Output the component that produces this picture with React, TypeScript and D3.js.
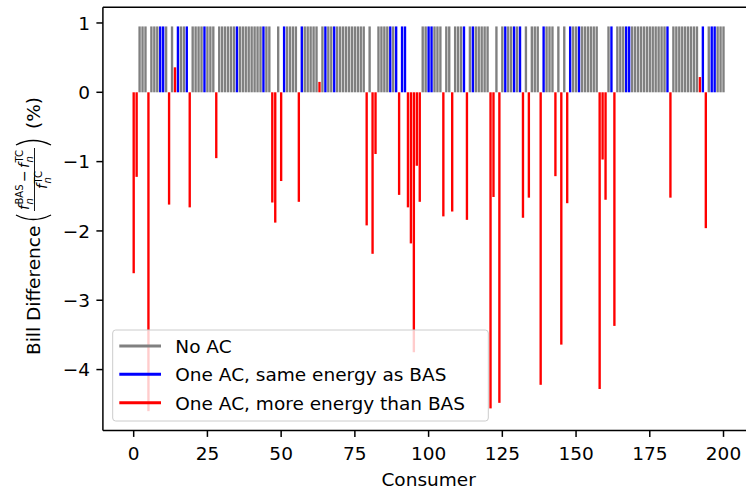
import React from "react";
import * as d3 from "d3";

// N = No AC, S = One AC same energy as BAS, M = One AC more energy than BAS
const consumerGroups: string[] = [
  "MMNNNMNNNSSNMNMSNNSMNNNNS",
  "NNNMNNNNNNSNNNNNNNNSNNMMN",
  "MSNNNNMSNNNNNMNSNNSNNNNNN",
  "NNNNMNMMNNNNSNSMSSMMMMMNN",
  "SSNNNMNNMNNNSMNSNNNNNMMNM",
  "NSNNSNSMNMNNNMSNNNMNMNMSN",
  "NSNNNNNNMMMNSMNNNSSNNNNNN",
  "NNNNNNSMNNNNNNNNNMSMNSSNNN",
].join("").split("");

const noAcValue = 0.95;
const sameEnergyValue = 0.95;
const moreEnergyValues: number[] = [
  -2.61, -1.22, -4.6, -1.62, 0.36, -1.66, -0.95, -1.59, -1.88, -1.28,
  -1.58, 0.15, -1.92, -2.33, -0.89, -1.48, -1.66, -2.18, -3.75, -1.06,
  -1.58, -1.79, -1.72, -1.84, -4.56, -1.51, -4.48, -1.81, -1.52, -4.22,
  -1.21, -3.64, -1.6, -4.28, -0.97, -1.55, -3.37, -1.52, 0.22, -1.96,
];

const xTicks = [0, 25, 50, 75, 100, 125, 150, 175, 200];
const yTicks = [1, 0, -1, -2, -3, -4];
const legendLabels = ["No AC", "One AC, same energy as BAS", "One AC, more energy than BAS"];
const colors: Record<string, string> = { N: "#808080", S: "#0000ff", M: "#ff0000" };

type Bar = { i: number; v: number; g: string };

export default function App() {
  const W = 746, H = 491;
  const x = d3.scaleLinear().domain([-10.44, 210.44]).range([102.9, 754.3]);
  const y = d3.scaleLinear().domain([-4.8775, 1.2275]).range([430.4, 7.2]);
  const font = "DejaVu Sans, sans-serif";
  const fs = 18.5;

  let r = 0;
  const bars: Bar[] = consumerGroups.map((g, i) => {
    if (g === "M") return { i, v: moreEnergyValues[r++], g };
    return { i, v: g === "N" ? noAcValue : sameEnergyValue, g };
  });
  const order = ["N", "S", "M"];
  const bw = 0.8;

  const left = x(-10.44), top = y(1.2275), bottom = y(-4.8775);

  return (
    <svg width={W} height={H} style={{ position: "absolute", left: 0, top: 0, background: "#fff" }} fontFamily={font}>
      <rect x={0} y={0} width={W} height={H} fill="#fff" />
      {order.map((g) =>
        bars
          .filter((b) => b.g === g)
          .map((b) => (
            <rect
              key={g + b.i}
              x={x(b.i - bw / 2)}
              width={x(b.i + bw / 2) - x(b.i - bw / 2)}
              y={y(Math.max(0, b.v))}
              height={Math.abs(y(b.v) - y(0))}
              fill={colors[g]}
            />
          ))
      )}
      {/* spines */}
      <line x1={left} x2={W + 10} y1={top} y2={top} stroke="#000" strokeWidth={1.5} />
      <line x1={left} x2={W + 10} y1={bottom} y2={bottom} stroke="#000" strokeWidth={1.5} />
      <line x1={left} x2={left} y1={top} y2={bottom} stroke="#000" strokeWidth={1.5} />
      {/* x ticks */}
      {xTicks.map((t) => (
        <g key={"x" + t}>
          <line x1={x(t)} x2={x(t)} y1={bottom} y2={bottom + 6.5} stroke="#000" strokeWidth={1.5} />
          <text x={x(t)} y={460} textAnchor="middle" fontSize={fs}>{t}</text>
        </g>
      ))}
      {/* y ticks */}
      {yTicks.map((t) => (
        <g key={"y" + t}>
          <line x1={left - 6.5} x2={left} y1={y(t)} y2={y(t)} stroke="#000" strokeWidth={1.5} />
          <text x={90} y={y(t) + 6.7} textAnchor="end" fontSize={fs}>{t < 0 ? "\u2212" + Math.abs(t) : t}</text>
        </g>
      ))}
      <text x={(left + 754.3) / 2} y={486} textAnchor="middle" fontSize={fs}>Consumer</text>
      {/* y label */}
      <g transform="translate(40,355) rotate(-90)" fontSize={fs}>
        <text x={0} y={0}>Bill Difference</text>
        <path d="M140,-24 Q131,-7 140,11" fill="none" stroke="#000" strokeWidth={1.3} />
        {/* numerator */}
        <g fontSize={14}>
          <text x={145} y={-11.5} fontStyle="italic">f</text>
          <text x={150.5} y={-17} fontSize={10}>BAS</text>
          <text x={150.5} y={-7.5} fontSize={10} fontStyle="italic">n</text>
          <text x={173} y={-11.5}>{"\u2212"}</text>
          <text x={187} y={-11.5} fontStyle="italic">f</text>
          <text x={192.5} y={-17} fontSize={10}>TC</text>
          <text x={192.5} y={-7.5} fontSize={10} fontStyle="italic">n</text>
        </g>
        <line x1={144} x2={207} y1={-5.5} y2={-5.5} stroke="#000" strokeWidth={0.9} />
        <g fontSize={14}>
          <text x={166} y={6.5} fontStyle="italic">f</text>
          <text x={171.5} y={1.5} fontSize={10}>TC</text>
          <text x={171.5} y={10.5} fontSize={10} fontStyle="italic">n</text>
        </g>
        <path d="M210,-24 Q219,-7 210,11" fill="none" stroke="#000" strokeWidth={1.3} />
        <text x={226} y={0}>(%)</text>
      </g>
      {/* legend */}
      <rect x={112.7} y={330} width={375.6} height={91} rx={3} fill="#fff" fillOpacity={0.8} stroke="#cccccc" strokeWidth={1} />
      {legendLabels.map((l, k) => {
        const ly = 346 + k * 28.35;
        return (
          <g key={l}>
            <line x1={119.3} x2={161} y1={ly} y2={ly} stroke={colors[order[k]]} strokeWidth={3} />
            <text x={175.3} y={ly + 6.8} fontSize={fs}>{l}</text>
          </g>
        );
      })}
    </svg>
  );
}
